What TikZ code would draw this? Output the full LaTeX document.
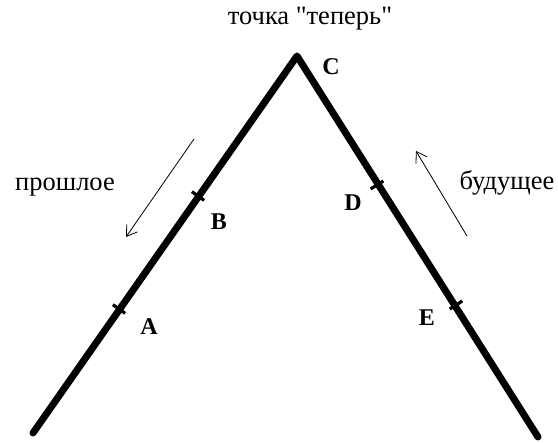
\documentclass[tikz,border=0pt]{standalone}
\usepackage{fontspec}
\setmainfont{Liberation Serif}
\usetikzlibrary{calc,arrows.meta}
\begin{document}
\begin{tikzpicture}[x=1pt,y=-1pt,
  mainline/.style={line width=7pt,line cap=round,line join=round},
  tickmark/.style={line width=3.2pt},
  pointlabel/.style={font=\fontsize{24}{24}\selectfont\bfseries,inner sep=0pt},
  wordlabel/.style={font=\fontsize{26.5}{26.5}\selectfont,inner sep=0pt},
  timearrow/.style={line width=0.8pt,-{Straight Barb[length=10pt,width=13pt,line width=0.8pt]}}]
\useasboundingbox (0,0) rectangle (558,443);
\coordinate (L) at (33,433);
\coordinate (C) at (297,56);
\coordinate (R) at (538,437);
\coordinate (A) at (119,309);
\coordinate (B) at (198,196);
\coordinate (D) at (377,185);
\coordinate (E) at (456,305);
\draw[mainline] (L) -- (C) -- (R);
\foreach \p/\q in {A/C,B/C,D/C,E/C}{
  \draw[tickmark] ($(\p)!7.5pt!90:(\q)$) -- ($(\p)!7.5pt!-90:(\q)$);
}
\node[pointlabel] (lc) at (331,67) {C};
\node[pointlabel] (lb) at (219,222) {B};
\node[pointlabel] (ld) at (353,203) {D};
\node[pointlabel] (la) at (149,327) {A};
\node[pointlabel] (le) at (427,318) {E};
\node[wordlabel] (now) at (310,19) {точка \textquotedbl теперь\textquotedbl};
\node[wordlabel] (past) at (65,187) {прошлое};
\node[wordlabel] (future) at (507,183) {будущее};
\coordinate (p1) at (194,139);
\coordinate (p2) at (126,237);
\coordinate (f1) at (467,236);
\coordinate (f2) at (416,151);
\draw[timearrow] (p1) -- (p2);
\draw[timearrow] (f1) -- (f2);
\end{tikzpicture}
\end{document}
